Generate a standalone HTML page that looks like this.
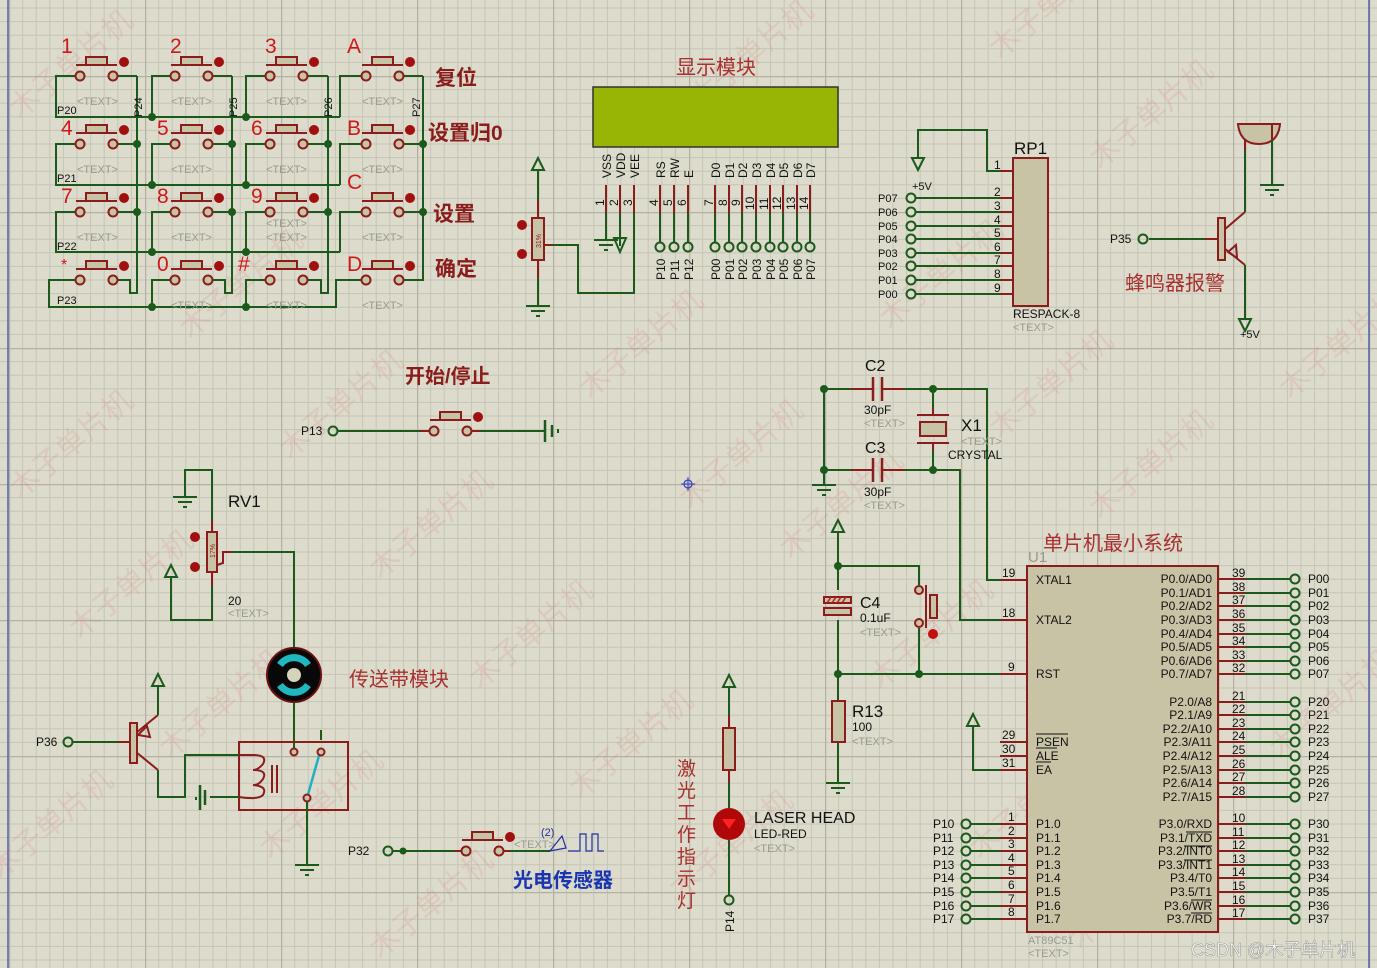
<!DOCTYPE html>
<html><head><meta charset="utf-8"><style>
html,body{margin:0;padding:0;background:#dcdbcc;}
svg{display:block;font-family:"Liberation Sans","Noto Sans CJK SC",sans-serif;font-size:12px;}
.w{stroke:#1b5a1b;stroke-width:2;fill:none}
.m{stroke:#8b1c1c;stroke-width:2;fill:none}
.c{fill:#c9c3a6;stroke:#8b1c1c;stroke-width:2}
.t{fill:#111}
.g{font-size:11px;fill:#9a9a90}
.r{fill:#d01818;font-size:21px}
.cn{fill:#8b1c1c;font-size:21px;font-weight:bold}
.cl{fill:#a83030;font-size:20px}
.wm{fill:rgba(215,110,110,0.15);font-size:30px}
</style></head><body>
<svg width="1377" height="968" viewBox="0 0 1377 968" xmlns="http://www.w3.org/2000/svg">
<defs>
<pattern id="grid" patternUnits="userSpaceOnUse" x="9" y="-60" width="136" height="136">
<path d="M13.6 0V136M27.2 0V136M40.8 0V136M54.4 0V136M68 0V136M81.6 0V136M95.2 0V136M108.8 0V136M122.4 0V136M0 13.6H136M0 27.2H136M0 40.8H136M0 54.4H136M0 68H136M0 81.6H136M0 95.2H136M0 108.8H136M0 122.4H136" stroke="#c6c5b6" stroke-width="1"/>
<path d="M0.5 0V136M0 0.5H136" stroke="#b2b1a2" stroke-width="1.5"/>
</pattern>
<g id="btn">
<line x1="-4" y1="-11" x2="37" y2="-11" class="m"/>
<rect x="6" y="-19" width="21" height="8" class="c"/>
<circle cx="0" cy="0" r="4.5" class="c"/>
<circle cx="33" cy="0" r="4.5" class="c"/>
<circle cx="44" cy="-14" r="5" fill="#a01010"/>
</g>
<g id="gnd"><path d="M-12 0H12M-7 5H7M-2 10H2" stroke="#1b5a1b" stroke-width="2"/></g>
<g id="pwr"><path d="M0 0V-16M-6 -16L0 -28L6 -16Z" stroke="#1b5a1b" stroke-width="2" fill="none"/></g>
<g id="pwrd"><path d="M0 0V14M-6 14L0 26L6 14Z" stroke="#1b5a1b" stroke-width="2" fill="none"/></g>
</defs>
<rect width="1377" height="968" fill="#dcdbcc"/>
<rect width="1377" height="968" fill="url(#grid)"/>
<line x1="8" y1="0" x2="8" y2="968" stroke="#5060b0" stroke-width="1.5"/>
<line x1="1369" y1="0" x2="1369" y2="968" stroke="#5060b0" stroke-width="1.5"/>

<!-- watermarks -->
<g class="wm">
<text transform="translate(20,120) rotate(-40)">木子单片机</text>
<text transform="translate(190,340) rotate(-40)">木子单片机</text>
<text transform="translate(590,400) rotate(-40)">木子单片机</text>
<text transform="translate(700,110) rotate(-40)">木子单片机</text>
<text transform="translate(1000,60) rotate(-40)">木子单片机</text>
<text transform="translate(1100,170) rotate(-40)">木子单片机</text>
<text transform="translate(890,330) rotate(-40)">木子单片机</text>
<text transform="translate(290,460) rotate(-40)">木子单片机</text>
<text transform="translate(690,510) rotate(-40)">木子单片机</text>
<text transform="translate(1000,440) rotate(-40)">木子单片机</text>
<text transform="translate(20,500) rotate(-40)">木子单片机</text>
<text transform="translate(80,640) rotate(-40)">木子单片机</text>
<text transform="translate(380,580) rotate(-40)">木子单片机</text>
<text transform="translate(480,690) rotate(-40)">木子单片机</text>
<text transform="translate(790,560) rotate(-40)">木子单片机</text>
<text transform="translate(170,760) rotate(-40)">木子单片机</text>
<text transform="translate(580,800) rotate(-40)">木子单片机</text>
<text transform="translate(270,860) rotate(-40)">木子单片机</text>
<text transform="translate(880,690) rotate(-40)">木子单片机</text>
<text transform="translate(1100,520) rotate(-40)">木子单片机</text>
<text transform="translate(1290,400) rotate(-40)">木子单片机</text>
<text transform="translate(1280,760) rotate(-40)">木子单片机</text>
<text transform="translate(0,880) rotate(-40)">木子单片机</text>
<text transform="translate(380,960) rotate(-40)">木子单片机</text>
<text transform="translate(680,900) rotate(-40)">木子单片机</text>
<text transform="translate(980,860) rotate(-40)">木子单片机</text>
<text transform="translate(1080,950) rotate(-40)">木子单片机</text>
</g>

<!-- ================= KEYPAD ================= -->
<g class="w">
<path d="M113 76H137M113 144H137M113 212H137M113 280H130V293H137V76"/>
<path d="M208 76H232M208 144H232M208 212H232M208 280H225V293H232V76"/>
<path d="M303 76H328M303 144H328M303 212H328M303 280H321V293H328V76"/>
<path d="M398 76H423M398 144H423M398 212H423M398 280H423V76"/>
<path d="M80 76H56V117H340M175 76H152V117M270 76H246V117M366 76H340V117"/>
<path d="M80 144H56V185H340M175 144H152V185M270 144H246V185M366 144H340V185"/>
<path d="M80 212H56V252H340M175 212H152V252M270 212H246V252M366 212H340V252"/>
<path d="M80 280H49V307H336V280H366M175 280H152V307M270 280H246V307"/>
</g>
<g fill="#1b5a1b">
<circle cx="152" cy="117" r="4"/><circle cx="246" cy="117" r="4"/>
<circle cx="152" cy="185" r="4"/><circle cx="246" cy="185" r="4"/>
<circle cx="152" cy="252" r="4"/><circle cx="246" cy="252" r="4"/>
<circle cx="152" cy="307" r="4"/><circle cx="246" cy="307" r="4"/>
<circle cx="137" cy="144" r="4"/><circle cx="232" cy="144" r="4"/><circle cx="328" cy="144" r="4"/><circle cx="423" cy="144" r="4"/>
<circle cx="137" cy="212" r="4"/><circle cx="232" cy="212" r="4"/><circle cx="328" cy="212" r="4"/><circle cx="423" cy="212" r="4"/>
</g>
<use href="#btn" x="80" y="76"/><use href="#btn" x="175" y="76"/><use href="#btn" x="270" y="76"/><use href="#btn" x="366" y="76"/>
<use href="#btn" x="80" y="144"/><use href="#btn" x="175" y="144"/><use href="#btn" x="270" y="144"/><use href="#btn" x="366" y="144"/>
<use href="#btn" x="80" y="212"/><use href="#btn" x="175" y="212"/><use href="#btn" x="270" y="212"/><use href="#btn" x="366" y="212"/>
<use href="#btn" x="80" y="280"/><use href="#btn" x="175" y="280"/><use href="#btn" x="270" y="280"/><use href="#btn" x="366" y="280"/>
<g class="r">
<text x="61" y="53">1</text><text x="170" y="53">2</text><text x="265" y="53">3</text><text x="347" y="53">A</text>
<text x="61" y="135">4</text><text x="157" y="135">5</text><text x="251" y="135">6</text><text x="347" y="135">B</text>
<text x="61" y="203">7</text><text x="157" y="203">8</text><text x="251" y="203">9</text><text x="347" y="189">C</text>
<text x="61" y="270" style="font-size:16px">*</text><text x="157" y="271">0</text><text x="238" y="271">#</text><text x="347" y="271">D</text>
</g>
<g class="g">
<text x="77" y="105">&lt;TEXT&gt;</text><text x="171" y="105">&lt;TEXT&gt;</text><text x="266" y="105">&lt;TEXT&gt;</text><text x="362" y="105">&lt;TEXT&gt;</text>
<text x="77" y="173">&lt;TEXT&gt;</text><text x="171" y="173">&lt;TEXT&gt;</text><text x="266" y="173">&lt;TEXT&gt;</text><text x="362" y="173">&lt;TEXT&gt;</text>
<text x="77" y="241">&lt;TEXT&gt;</text><text x="171" y="241">&lt;TEXT&gt;</text><text x="266" y="227">&lt;TEXT&gt;</text><text x="266" y="241">&lt;TEXT&gt;</text><text x="362" y="241">&lt;TEXT&gt;</text>
<text x="171" y="309">&lt;TEXT&gt;</text><text x="266" y="309">&lt;TEXT&gt;</text><text x="362" y="309">&lt;TEXT&gt;</text>
</g>
<g class="t" font-size="11">
<text x="57" y="114">P20</text><text x="57" y="182">P21</text><text x="57" y="250">P22</text><text x="57" y="304">P23</text>
<text transform="translate(142,117) rotate(-90)">P24</text>
<text transform="translate(237,117) rotate(-90)">P25</text>
<text transform="translate(332,117) rotate(-90)">P26</text>
<text transform="translate(420,117) rotate(-90)">P27</text>
</g>
<g class="cn">
<text x="435" y="85">复位</text><text x="428" y="140">设置归0</text><text x="433" y="221">设置</text><text x="435" y="276">确定</text>
</g>

<!-- ================= LCD ================= -->
<text x="676" y="74" class="cl">显示模块</text>
<rect x="593" y="87" width="245" height="60" fill="#98b404" stroke="#333" stroke-width="1.5"/>
<g class="m">
<path d="M606 185V213M620 185V213M634 185V213M660 185V213M674 185V213M688 185V213M715 185V213M729 185V213M742 185V213M756 185V213M770 185V213M783 185V213M797 185V213M810 185V213"/>
</g>
<g class="w">
<path d="M606 213V240M620 213V246M634 213V293H578V245H544"/>
<path d="M660 213V242M674 213V242M688 213V242M715 213V242M729 213V242M742 213V242M756 213V242M770 213V242M783 213V242M797 213V242M810 213V242"/>
<path d="M594 240H618M599 245H613M604 250H608"/>
<path d="M614 238L620 252L626 238Z"/>
</g>
<g fill="none" stroke="#1b5a1b" stroke-width="2">
<circle cx="660" cy="247" r="4.5"/><circle cx="674" cy="247" r="4.5"/><circle cx="688" cy="247" r="4.5"/>
<circle cx="715" cy="247" r="4.5"/><circle cx="729" cy="247" r="4.5"/><circle cx="742" cy="247" r="4.5"/><circle cx="756" cy="247" r="4.5"/>
<circle cx="770" cy="247" r="4.5"/><circle cx="783" cy="247" r="4.5"/><circle cx="797" cy="247" r="4.5"/><circle cx="810" cy="247" r="4.5"/>
</g>
<g class="t" font-size="12">
<text transform="translate(611,178) rotate(-90)">VSS</text><text transform="translate(625,178) rotate(-90)">VDD</text><text transform="translate(639,178) rotate(-90)">VEE</text>
<text transform="translate(665,178) rotate(-90)">RS</text><text transform="translate(679,178) rotate(-90)">RW</text><text transform="translate(693,178) rotate(-90)">E</text>
<text transform="translate(720,178) rotate(-90)">D0</text><text transform="translate(734,178) rotate(-90)">D1</text><text transform="translate(747,178) rotate(-90)">D2</text><text transform="translate(761,178) rotate(-90)">D3</text>
<text transform="translate(775,178) rotate(-90)">D4</text><text transform="translate(788,178) rotate(-90)">D5</text><text transform="translate(802,178) rotate(-90)">D6</text><text transform="translate(815,178) rotate(-90)">D7</text>
<text transform="translate(604,206) rotate(-90)">1</text><text transform="translate(618,206) rotate(-90)">2</text><text transform="translate(632,206) rotate(-90)">3</text>
<text transform="translate(658,206) rotate(-90)">4</text><text transform="translate(672,206) rotate(-90)">5</text><text transform="translate(686,206) rotate(-90)">6</text>
<text transform="translate(713,206) rotate(-90)">7</text><text transform="translate(727,206) rotate(-90)">8</text><text transform="translate(740,206) rotate(-90)">9</text><text transform="translate(754,210) rotate(-90)">10</text>
<text transform="translate(768,210) rotate(-90)">11</text><text transform="translate(781,210) rotate(-90)">12</text><text transform="translate(795,210) rotate(-90)">13</text><text transform="translate(808,210) rotate(-90)">14</text>
<text transform="translate(665,280) rotate(-90)">P10</text><text transform="translate(679,280) rotate(-90)">P11</text><text transform="translate(693,280) rotate(-90)">P12</text>
<text transform="translate(720,280) rotate(-90)">P00</text><text transform="translate(734,280) rotate(-90)">P01</text><text transform="translate(747,280) rotate(-90)">P02</text><text transform="translate(761,280) rotate(-90)">P03</text>
<text transform="translate(775,280) rotate(-90)">P04</text><text transform="translate(788,280) rotate(-90)">P05</text><text transform="translate(802,280) rotate(-90)">P06</text><text transform="translate(815,280) rotate(-90)">P07</text>
</g>
<use href="#pwr" x="538" y="186"/>
<path class="w" d="M538 186V200M538 278V306"/>
<path class="m" d="M538 200V218M538 260V278M544 245H552"/>
<use href="#gnd" x="538" y="306"/>
<rect x="532" y="218" width="12" height="42" class="c"/>
<text transform="translate(541,248) rotate(-90)" font-size="7" fill="#8b1c1c">31%</text>
<circle cx="522" cy="225" r="5" fill="#a01010"/><circle cx="522" cy="254" r="5" fill="#a01010"/>

<!-- ================= RP1 ================= -->
<g class="w">
<path d="M1000 171H987V130H918V158"/>
<path d="M912 198H1000M912 212H1000M912 226H1000M912 239H1000M912 253H1000M912 266H1000M912 280H1000M912 294H1000"/>
<path d="M912 158L918 170L924 158Z"/>
</g>
<path class="m" d="M1000 171H1013M1000 198H1013M1000 212H1013M1000 226H1013M1000 239H1013M1000 253H1013M1000 266H1013M1000 280H1013M1000 294H1013"/>
<rect x="1013" y="158" width="35" height="148" class="c"/>
<g fill="#dcdbcc" stroke="#1b5a1b" stroke-width="2">
<circle cx="911" cy="198" r="4.5"/><circle cx="911" cy="212" r="4.5"/><circle cx="911" cy="226" r="4.5"/><circle cx="911" cy="239" r="4.5"/>
<circle cx="911" cy="253" r="4.5"/><circle cx="911" cy="266" r="4.5"/><circle cx="911" cy="280" r="4.5"/><circle cx="911" cy="294" r="4.5"/>
</g>
<g class="t" font-size="11">
<text x="878" y="202">P07</text><text x="878" y="216">P06</text><text x="878" y="230">P05</text><text x="878" y="243">P04</text>
<text x="878" y="257">P03</text><text x="878" y="270">P02</text><text x="878" y="284">P01</text><text x="878" y="298">P00</text>
<text x="912" y="190" font-size="11">+5V</text>
<text x="994" y="169" font-size="12">1</text><text x="994" y="196" font-size="12">2</text><text x="994" y="210" font-size="12">3</text><text x="994" y="224" font-size="12">4</text><text x="994" y="237" font-size="12">5</text>
<text x="994" y="251" font-size="12">6</text><text x="994" y="264" font-size="12">7</text><text x="994" y="278" font-size="12">8</text><text x="994" y="292" font-size="12">9</text>
<text x="1014" y="154" font-size="17">RP1</text>
<text x="1013" y="318" font-size="12">RESPACK-8</text>
</g>
<text x="1013" y="331" class="g">&lt;TEXT&gt;</text>

<!-- ================= Buzzer ================= -->
<path d="M1238 124H1280Q1278 144 1259 144Q1240 144 1238 124Z" fill="#c9c3a6" stroke="#8b1c1c" stroke-width="2"/>
<path class="m" d="M1245 140V150M1272 124V140"/>
<path class="w" d="M1245 150V212M1272 140V185M1149 239H1205M1245 265V305"/>
<use href="#gnd" x="1272" y="185"/>
<use href="#pwrd" x="1245" y="305"/>
<path class="m" d="M1205 239H1218M1224 230L1245 212M1224 248L1245 265"/>
<rect x="1218" y="218" width="7" height="42" class="c"/>
<path d="M1228 252L1236 245L1237 258Z" fill="none" stroke="#8b1c1c" stroke-width="2"/>
<circle cx="1143" cy="239" r="4.5" fill="none" stroke="#1b5a1b" stroke-width="2"/>
<text x="1110" y="243" class="t" font-size="12">P35</text>
<text x="1240" y="338" class="t" font-size="11">+5V</text>
<text x="1125" y="290" class="cl">蜂鸣器报警</text>

<!-- ================= Start/Stop ================= -->
<text x="405" y="383" class="cn" style="font-size:20px">开始/停止</text>
<path class="w" d="M338 431H420M480 431H545"/>
<path class="m" d="M420 431H434M467 431H480"/>
<use href="#btn" x="434" y="431"/>
<path d="M545 420V442M552 425V437" stroke="#1b5a1b" stroke-width="2.5"/>
<line x1="558" y1="429" x2="558" y2="433" stroke="#1b5a1b" stroke-width="2"/>
<circle cx="333" cy="431" r="4.5" fill="none" stroke="#1b5a1b" stroke-width="2"/>
<text x="301" y="435" class="t" font-size="12">P13</text>

<!-- ================= RV1 / motor ================= -->
<path class="w" d="M185 497V470H212V520M212 585V620H171V593M226 552H294V647M294 703V740M321 740V730M294 740V752"/>
<use href="#gnd" x="185" y="497"/>
<use href="#pwr" x="171" y="593"/>
<path class="m" d="M212 520V532M212 572V585M217 565L223 563V552H232"/>
<rect x="207" y="532" width="10" height="40" class="c"/>
<text transform="translate(215,558) rotate(-90)" font-size="7" fill="#8b1c1c">17%</text>
<circle cx="195" cy="537" r="5" fill="#a01010"/><circle cx="195" cy="567" r="5" fill="#a01010"/>
<text x="228" y="507" class="t" font-size="17">RV1</text>
<text x="228" y="605" class="t" font-size="12">20</text>
<text x="228" y="617" class="g">&lt;TEXT&gt;</text>
<circle cx="294" cy="675" r="27" fill="#080808" stroke="#6a1010" stroke-width="2"/>
<path d="M280 665A17 17 0 0 1 308 665" stroke="#20b8c0" stroke-width="7" fill="none"/>
<path d="M280 685A17 17 0 0 0 308 685" stroke="#20b8c0" stroke-width="7" fill="none"/>
<circle cx="294" cy="675" r="7" fill="#d6d2bc"/>
<text x="349" y="686" class="cl">传送带模块</text>
<rect x="239" y="742" width="109" height="68" fill="none" stroke="#8b1c1c" stroke-width="2"/>
<path d="M239 755H253Q268 755 263 764Q258 770 253 770Q268 770 263 779Q258 786 253 785Q268 786 263 795Q258 800 239 797" fill="none" stroke="#8b1c1c" stroke-width="2"/>
<path d="M272 765V793M277 765V793" stroke="#8b1c1c" stroke-width="2"/>
<line x1="320" y1="752" x2="307" y2="798" stroke="#20b0c0" stroke-width="2.5"/>
<circle cx="294" cy="752" r="3.5" class="c"/><circle cx="321" cy="752" r="3.5" class="c"/><circle cx="307" cy="798" r="3.5" class="c"/>
<path class="w" d="M307 802V865M73 742H118M158 690V715M158 770V797H185V755H239M210 797H239"/>
<use href="#gnd" x="307" y="865"/>
<use href="#pwr" x="158" y="702"/>
<path d="M200 785V810M205 790V805" stroke="#1b5a1b" stroke-width="2.5"/>
<line x1="196" y1="797" x2="196" y2="800" stroke="#1b5a1b" stroke-width="2"/>
<path class="m" d="M118 742H130M136 733L158 715M136 752L158 770"/>
<rect x="130" y="723" width="7" height="40" class="c"/>
<path d="M138 735L147 726L150 737Z" fill="none" stroke="#8b1c1c" stroke-width="2"/>
<circle cx="68" cy="742" r="4.5" fill="none" stroke="#1b5a1b" stroke-width="2"/>
<text x="36" y="746" class="t" font-size="12">P36</text>

<!-- ================= P32 sensor ================= -->
<path class="w" d="M393 851H455M510 851H550"/>
<path class="m" d="M455 851H466M499 851H510"/>
<circle cx="403" cy="851" r="3.5" fill="#1b5a1b"/>
<use href="#btn" x="466" y="851"/>
<circle cx="388" cy="851" r="4.5" fill="none" stroke="#1b5a1b" stroke-width="2"/>
<text x="348" y="855" class="t" font-size="12">P32</text>
<text x="514" y="848" class="g">&lt;TEXT&gt;</text>
<text x="541" y="836" fill="#2030a0" font-size="11">(2)</text>
<path d="M550 851L562 836L566 848Z M568 851H580V834H586V851H592V834H598V851H604" fill="none" stroke="#2030a0" stroke-width="1.2"/>
<text x="513" y="887" fill="#1a35b0" font-size="20" font-weight="bold">光电传感器</text>

<!-- ================= Laser ================= -->
<use href="#pwr" x="729" y="703"/>
<path class="w" d="M729 703V716M729 783V808M729 840V895"/>
<path class="m" d="M729 716V728M729 770V783"/>
<rect x="723" y="728" width="12" height="42" class="c"/>
<circle cx="729" cy="824" r="16" fill="#b00808"/>
<path d="M722 819H736L729 829Z" fill="#ff2020"/>
<circle cx="729" cy="900" r="4.5" fill="none" stroke="#1b5a1b" stroke-width="2"/>
<text transform="translate(734,932) rotate(-90)" class="t" font-size="12">P14</text>
<text x="754" y="823" class="t" font-size="16">LASER HEAD</text>
<text x="754" y="838" class="t" font-size="12">LED-RED</text>
<text x="754" y="852" class="g">&lt;TEXT&gt;</text>
<g fill="#a83030" font-size="19">
<text x="677" y="775">激</text><text x="677" y="797">光</text><text x="677" y="819">工</text>
<text x="677" y="841">作</text><text x="677" y="863">指</text><text x="677" y="885">示</text><text x="677" y="907">灯</text>
</g>

<circle cx="688" cy="484" r="4" fill="none" stroke="#3040c0" stroke-width="1.2"/>
<path d="M681 484H695M688 477V491" stroke="#3040c0" stroke-width="1"/>

<!-- ================= Crystal / reset ================= -->
<path class="w" d="M824 389H851M904 389H987V580H1000M824 389V485M824 470H851M904 470H960V620H1000M933 389V408M933 450V470"/>
<path class="m" d="M851 389H873M882 389H904M851 470H873M882 470H904M933 408V415M933 443V450"/>
<path d="M873 377V401M882 377V401M873 458V482M882 458V482" stroke="#8b1c1c" stroke-width="2.5"/>
<path d="M917 415H949M917 443H949" stroke="#8b1c1c" stroke-width="2"/>
<rect x="920" y="422" width="26" height="14" class="c"/>
<g fill="#1b5a1b"><circle cx="824" cy="389" r="4"/><circle cx="933" cy="389" r="4"/><circle cx="824" cy="470" r="4"/><circle cx="933" cy="470" r="4"/></g>
<use href="#gnd" x="824" y="485"/>
<text x="865" y="371" class="t" font-size="16">C2</text>
<text x="864" y="414" class="t" font-size="12">30pF</text><text x="864" y="427" class="g">&lt;TEXT&gt;</text>
<text x="865" y="453" class="t" font-size="16">C3</text>
<text x="864" y="496" class="t" font-size="12">30pF</text><text x="864" y="509" class="g">&lt;TEXT&gt;</text>
<text x="961" y="431" class="t" font-size="17">X1</text><text x="961" y="445" class="g">&lt;TEXT&gt;</text>
<text x="948" y="459" class="t" font-size="12">CRYSTAL</text>

<use href="#pwr" x="838" y="548"/>
<path class="w" d="M838 548V590M838 566H919V585M919 628V674M838 620V700M838 674H1000M838 742V783M973 742V770H1000"/>
<use href="#pwr" x="973" y="742"/>
<use href="#gnd" x="838" y="783"/>
<g fill="#1b5a1b"><circle cx="838" cy="566" r="4"/><circle cx="838" cy="674" r="4"/><circle cx="919" cy="674" r="4"/></g>
<rect x="824" y="597" width="27" height="6" fill="#c9c3a6" stroke="#8b1c1c" stroke-width="2"/>
<path d="M827 603L831 597M832 603L836 597M837 603L841 597M842 603L846 597" stroke="#b02020" stroke-width="1.5"/>
<rect x="824" y="608" width="27" height="7" class="c"/>
<circle cx="919" cy="590" r="4" class="c"/><circle cx="919" cy="623" r="4" class="c"/>
<line x1="926" y1="585" x2="926" y2="628" class="m"/>
<rect x="930" y="595" width="7" height="23" class="c"/>
<circle cx="933" cy="634" r="5" fill="#c01010"/>
<rect x="832" y="701" width="13" height="41" class="c"/>
<text x="860" y="608" class="t" font-size="16">C4</text>
<text x="860" y="622" class="t" font-size="12">0.1uF</text><text x="860" y="636" class="g">&lt;TEXT&gt;</text>
<text x="852" y="717" class="t" font-size="17">R13</text>
<text x="852" y="731" class="t" font-size="12">100</text><text x="852" y="745" class="g">&lt;TEXT&gt;</text>

<!-- ================= U1 ================= -->
<text x="1043" y="550" class="cl">单片机最小系统</text>
<text x="1028" y="562" fill="#9a9a90" font-size="15">U1</text>
<path class="m" d="M1000 580H1027M1000 620H1027M1000 674H1027M1000 742H1027M1000 756H1027M1000 770H1027M1000 824H1027M1000 838H1027M1000 851H1027M1000 865H1027M1000 878H1027M1000 892H1027M1000 906H1027M1000 919H1027"/>
<path class="w" d="M971 824H1000M971 838H1000M971 851H1000M971 865H1000M971 878H1000M971 892H1000M971 906H1000M971 919H1000"/>
<rect x="1027" y="566" width="191" height="366" class="c"/>
<path class="m" d="M1218 579H1245M1218 593H1245M1218 606H1245M1218 620H1245M1218 634H1245M1218 647H1245M1218 661H1245M1218 674H1245M1218 702H1245M1218 715H1245M1218 729H1245M1218 742H1245M1218 756H1245M1218 770H1245M1218 783H1245M1218 797H1245M1218 824H1245M1218 838H1245M1218 851H1245M1218 865H1245M1218 878H1245M1218 892H1245M1218 906H1245M1218 919H1245"/>
<path class="w" d="M1245 579H1290M1245 593H1290M1245 606H1290M1245 620H1290M1245 634H1290M1245 647H1290M1245 661H1290M1245 674H1290M1245 702H1290M1245 715H1290M1245 729H1290M1245 742H1290M1245 756H1290M1245 770H1290M1245 783H1290M1245 797H1290M1245 824H1290M1245 838H1290M1245 851H1290M1245 865H1290M1245 878H1290M1245 892H1290M1245 906H1290M1245 919H1290"/>
<g fill="#dcdbcc" stroke="#1b5a1b" stroke-width="2">
<circle cx="1295" cy="579" r="4.5"/><circle cx="1295" cy="593" r="4.5"/><circle cx="1295" cy="606" r="4.5"/><circle cx="1295" cy="620" r="4.5"/><circle cx="1295" cy="634" r="4.5"/><circle cx="1295" cy="647" r="4.5"/><circle cx="1295" cy="661" r="4.5"/><circle cx="1295" cy="674" r="4.5"/>
<circle cx="1295" cy="702" r="4.5"/><circle cx="1295" cy="715" r="4.5"/><circle cx="1295" cy="729" r="4.5"/><circle cx="1295" cy="742" r="4.5"/><circle cx="1295" cy="756" r="4.5"/><circle cx="1295" cy="770" r="4.5"/><circle cx="1295" cy="783" r="4.5"/><circle cx="1295" cy="797" r="4.5"/>
<circle cx="1295" cy="824" r="4.5"/><circle cx="1295" cy="838" r="4.5"/><circle cx="1295" cy="851" r="4.5"/><circle cx="1295" cy="865" r="4.5"/><circle cx="1295" cy="878" r="4.5"/><circle cx="1295" cy="892" r="4.5"/><circle cx="1295" cy="906" r="4.5"/><circle cx="1295" cy="919" r="4.5"/>
<circle cx="966" cy="824" r="4.5"/><circle cx="966" cy="838" r="4.5"/><circle cx="966" cy="851" r="4.5"/><circle cx="966" cy="865" r="4.5"/><circle cx="966" cy="878" r="4.5"/><circle cx="966" cy="892" r="4.5"/><circle cx="966" cy="906" r="4.5"/><circle cx="966" cy="919" r="4.5"/>
</g>
<g class="t" font-size="12">
<text x="1002" y="577">19</text><text x="1002" y="617">18</text><text x="1008" y="671">9</text>
<text x="1002" y="739">29</text><text x="1002" y="753">30</text><text x="1002" y="767">31</text>
<text x="1008" y="821">1</text><text x="1008" y="835">2</text><text x="1008" y="848">3</text><text x="1008" y="862">4</text><text x="1008" y="875">5</text><text x="1008" y="889">6</text><text x="1008" y="903">7</text><text x="1008" y="916">8</text>
<text x="933" y="828">P10</text><text x="933" y="842">P11</text><text x="933" y="855">P12</text><text x="933" y="869">P13</text><text x="933" y="882">P14</text><text x="933" y="896">P15</text><text x="933" y="910">P16</text><text x="933" y="923">P17</text>
<text x="1036" y="584">XTAL1</text><text x="1036" y="624">XTAL2</text><text x="1036" y="678">RST</text>
<text x="1036" y="746">PSEN</text><text x="1036" y="760">ALE</text><text x="1036" y="774">EA</text>
<text x="1036" y="828">P1.0</text><text x="1036" y="842">P1.1</text><text x="1036" y="855">P1.2</text><text x="1036" y="869">P1.3</text><text x="1036" y="882">P1.4</text><text x="1036" y="896">P1.5</text><text x="1036" y="910">P1.6</text><text x="1036" y="923">P1.7</text>
</g>
<path d="M1036 734H1068M1036 748H1057M1036 762H1051" stroke="#111" stroke-width="1"/>
<g class="t" font-size="12" text-anchor="end">
<text x="1212" y="583">P0.0/AD0</text><text x="1212" y="597">P0.1/AD1</text><text x="1212" y="610">P0.2/AD2</text><text x="1212" y="624">P0.3/AD3</text><text x="1212" y="638">P0.4/AD4</text><text x="1212" y="651">P0.5/AD5</text><text x="1212" y="665">P0.6/AD6</text><text x="1212" y="678">P0.7/AD7</text>
<text x="1212" y="706">P2.0/A8</text><text x="1212" y="719">P2.1/A9</text><text x="1212" y="733">P2.2/A10</text><text x="1212" y="746">P2.3/A11</text><text x="1212" y="760">P2.4/A12</text><text x="1212" y="774">P2.5/A13</text><text x="1212" y="787">P2.6/A14</text><text x="1212" y="801">P2.7/A15</text>
<text x="1212" y="828">P3.0/RXD</text><text x="1212" y="842">P3.1/TXD</text><text x="1212" y="855">P3.2/INT0</text><text x="1212" y="869">P3.3/INT1</text><text x="1212" y="882">P3.4/T0</text><text x="1212" y="896">P3.5/T1</text><text x="1212" y="910">P3.6/WR</text><text x="1212" y="923">P3.7/RD</text>
</g>
<path d="M1186 832H1212M1184 846H1212M1184 860H1212M1191 900H1212M1191 913H1212" stroke="#111" stroke-width="1"/>
<g class="t" font-size="12">
<text x="1232" y="577">39</text><text x="1232" y="591">38</text><text x="1232" y="604">37</text><text x="1232" y="618">36</text><text x="1232" y="632">35</text><text x="1232" y="645">34</text><text x="1232" y="659">33</text><text x="1232" y="672">32</text>
<text x="1232" y="700">21</text><text x="1232" y="713">22</text><text x="1232" y="727">23</text><text x="1232" y="740">24</text><text x="1232" y="754">25</text><text x="1232" y="768">26</text><text x="1232" y="781">27</text><text x="1232" y="795">28</text>
<text x="1232" y="822">10</text><text x="1232" y="836">11</text><text x="1232" y="849">12</text><text x="1232" y="863">13</text><text x="1232" y="876">14</text><text x="1232" y="890">15</text><text x="1232" y="904">16</text><text x="1232" y="917">17</text>
<text x="1308" y="583">P00</text><text x="1308" y="597">P01</text><text x="1308" y="610">P02</text><text x="1308" y="624">P03</text><text x="1308" y="638">P04</text><text x="1308" y="651">P05</text><text x="1308" y="665">P06</text><text x="1308" y="678">P07</text>
<text x="1308" y="706">P20</text><text x="1308" y="719">P21</text><text x="1308" y="733">P22</text><text x="1308" y="746">P23</text><text x="1308" y="760">P24</text><text x="1308" y="774">P25</text><text x="1308" y="787">P26</text><text x="1308" y="801">P27</text>
<text x="1308" y="828">P30</text><text x="1308" y="842">P31</text><text x="1308" y="855">P32</text><text x="1308" y="869">P33</text><text x="1308" y="882">P34</text><text x="1308" y="896">P35</text><text x="1308" y="910">P36</text><text x="1308" y="923">P37</text>
</g>
<text x="1028" y="944" fill="#9a9a90" font-size="11">AT89C51</text>
<text x="1028" y="957" class="g">&lt;TEXT&gt;</text>
<text x="1191" y="956" fill="#ffffff" stroke="#9a9a9a" stroke-width="0.6" font-size="18">CSDN @木子单片机</text>
</svg>
</body></html>
